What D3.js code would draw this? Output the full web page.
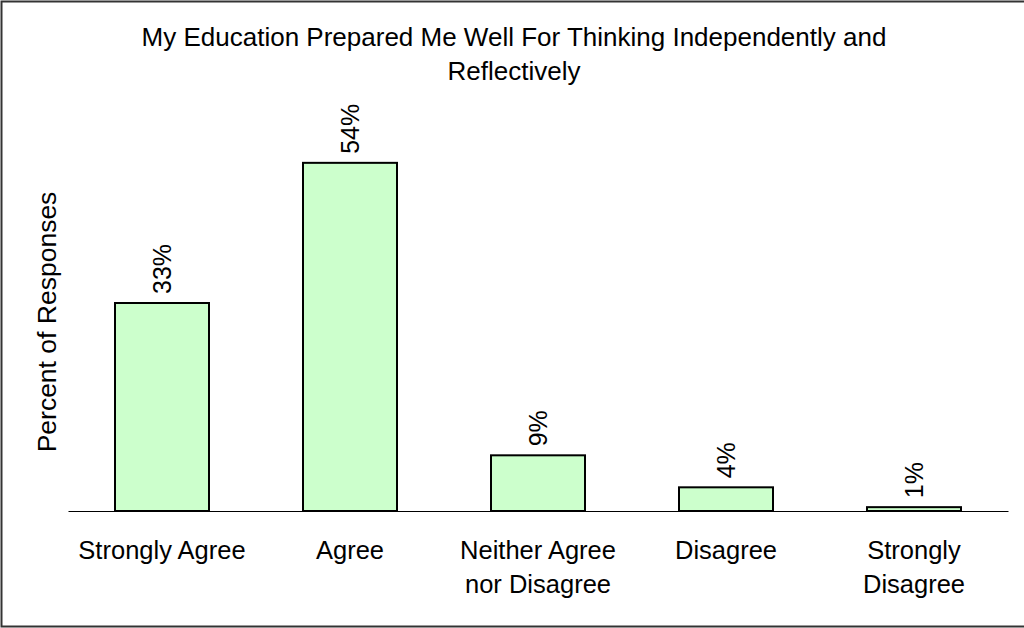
<!DOCTYPE html>
<html>
<head>
<meta charset="utf-8">
<script src="https://cdn.jsdelivr.net/npm/d3@7/dist/d3.min.js"></script>
<style>
  html, body { margin: 0; padding: 0; background: #fff; }
  svg { display: block; }
  text { font-family: "Liberation Sans", Arial, sans-serif; fill: #000; }
</style>
</head>
<body>
<svg id="chart" width="1024" height="628"></svg>
<script>
const categories = [["Strongly Agree"], ["Agree"], ["Neither Agree", "nor Disagree"], ["Disagree"], ["Strongly", "Disagree"]];
const values = [32.5, 54.4, 8.7, 3.7, 0.6];
const valueLabels = ["33%", "54%", "9%", "4%", "1%"];
const titleLines = ["My Education Prepared Me Well For Thinking Independently and", "Reflectively"];
const yTitle = "Percent of Responses";

const svg = d3.select("#chart");
const W = 1024, H = 628;
const margin = { left: 68, right: 16, top: 127, bottom: 117 };
const plotBottom = H - margin.bottom; // 511

svg.append("rect")
  .attr("x", 1.5).attr("y", 1.5)
  .attr("width", W + 10).attr("height", H - 3)
  .attr("fill", "#fff").attr("stroke", "#333").attr("stroke-width", 2);

const x = d3.scaleBand()
  .domain(categories.map((d, i) => i))
  .range([margin.left, W - margin.right])
  .paddingInner(0.5).paddingOuter(0.25);

const y = d3.scaleLinear().domain([0, 60]).range([plotBottom, plotBottom - 60 * 6.4]);

// bars
svg.append("g").selectAll("rect")
  .data(values)
  .join("rect")
  .attr("x", (d, i) => x(i))
  .attr("y", d => y(d))
  .attr("width", x.bandwidth())
  .attr("height", d => y(0) - y(d))
  .attr("fill", "#ccffcc")
  .attr("stroke", "#000")
  .attr("stroke-width", 2);

// x axis line
const xAxis = d3.axisBottom(x).tickSize(0).tickFormat(() => "");
const gx = svg.append("g").attr("transform", `translate(0,${plotBottom})`).call(xAxis);
gx.select(".domain").attr("stroke", "#000").attr("stroke-width", 1);

// category labels
svg.append("g").selectAll("text")
  .data(categories)
  .join("text")
  .attr("text-anchor", "middle")
  .attr("font-size", 25.5)
  .attr("transform", (d, i) => `translate(${x(i) + x.bandwidth() / 2},${plotBottom + 48})`)
  .selectAll("tspan")
  .data(d => d)
  .join("tspan")
  .attr("x", 0)
  .attr("dy", (d, j) => j === 0 ? 0 : 34)
  .text(d => d);

// value labels rotated
svg.append("g").selectAll("text")
  .data(values)
  .join("text")
  .attr("font-size", 25)
  .attr("text-anchor", "start")
  .attr("transform", (d, i) => `translate(${x(i) + x.bandwidth() / 2 + 9},${y(d) - 9}) rotate(-90)`)
  .text((d, i) => valueLabels[i]);

// title
svg.append("text")
  .attr("text-anchor", "middle")
  .attr("font-size", 26)
  .attr("x", 514)
  .attr("y", 46)
  .selectAll("tspan")
  .data(titleLines)
  .join("tspan")
  .attr("x", 514)
  .attr("dy", (d, j) => j === 0 ? 0 : 34)
  .text(d => d);

// y title
svg.append("text")
  .attr("text-anchor", "middle")
  .attr("font-size", 26.5)
  .attr("transform", `translate(56,322) rotate(-90)`)
  .text(yTitle);
</script>
</body>
</html>
